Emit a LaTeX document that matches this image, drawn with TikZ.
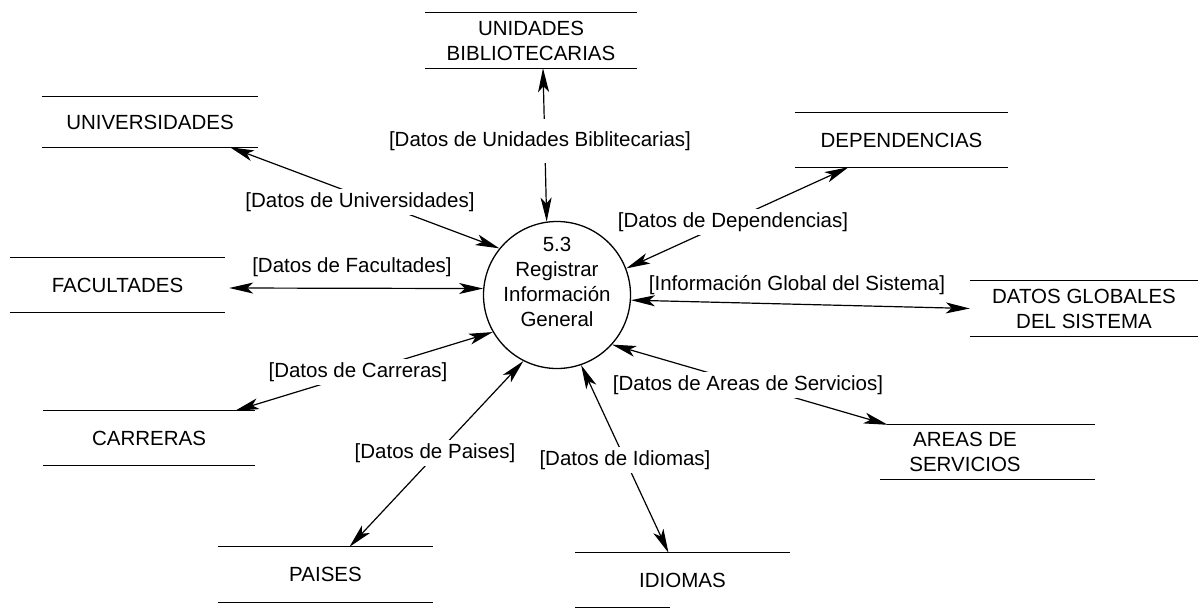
\documentclass[tikz,border=0pt]{standalone}
\usepackage{fontspec}
\setmainfont{Liberation Sans}
\usetikzlibrary{arrows.meta,calc}
\begin{document}
\begin{tikzpicture}[x=1pt,y=-1pt,
  every node/.style={font=\fontsize{20.5}{25}\selectfont, inner sep=0pt},
  store/.style={align=center},
  sline/.style={line width=1.3pt},
  flow/.style={{Stealth[length=24pt,width=11pt,inset=6pt]}-{Stealth[length=24pt,width=11pt,inset=6pt]}, line width=1.2pt},
  lbl/.style={fill=white, inner sep=3pt},
  proc/.style={circle, draw, line width=1.3pt, minimum size=147pt}
]
\useasboundingbox (0,0) rectangle (1198,608);

% process
\node[proc] (proc) at (557,295) {};
\node[align=center] (proctext) at (557,282) {5.3\\Registrar\\Información\\General};

% data stores
\node[store, minimum width=211pt, minimum height=55pt] (unid) at (531,40.5) {UNIDADES\\BIBLIOTECARIAS};
\node[store, minimum width=216pt, minimum height=50pt] (univ) at (150,122) {UNIVERSIDADES};
\node[store, minimum width=215pt, minimum height=54pt] (fac) at (117.5,285) {FACULTADES};
\node[store, minimum width=212pt, minimum height=54pt] (carr) at (149,438) {CARRERAS};
\node[store, minimum width=215pt, minimum height=55pt] (pais) at (325.5,574.5) {PAISES};
\node[store, minimum width=215pt, minimum height=54pt] (idio) at (682.5,580) {IDIOMAS};
\node[store, minimum width=208pt, minimum height=54pt] (area) at (965,452) {AREAS DE\\SERVICIOS};
\node[store, minimum width=228pt, minimum height=55pt] (glob) at (1084,308.5) {DATOS GLOBALES\\DEL SISTEMA};
\node[store, minimum width=213pt, minimum height=54pt] (dep) at (901.5,140) {DEPENDENCIAS};

\foreach \s in {unid,univ,fac,carr,pais,glob,dep}{
  \draw[sline] (\s.north west) -- (\s.north east) (\s.south west) -- (\s.south east);
}
\draw[sline] (idio.north west) -- (idio.north east) (idio.south west) -- ([xshift=95pt]idio.south west);
\draw[sline] ([xshift=26pt]area.north west) -- ([xshift=26pt]area.north east)
             ([xshift=19pt]area.south west) -- ([xshift=26pt]area.south east);

% flows
\draw[flow] ([xshift=12pt]unid.south) -- (proc.98);
\draw[flow] ([xshift=80pt]univ.south) -- (proc.141);
\draw[flow] ([xshift=4pt,yshift=-3pt]fac.east) -- (proc.175);
\draw[flow] ([xshift=86pt]carr.north) -- (proc.210);
\draw[flow] ([xshift=24pt]pais.north) -- (proc.243);
\draw[flow] ([xshift=-14pt]idio.north) -- (proc.289);
\draw[flow] ([xshift=27pt]area.north west) -- (proc.318);
\draw[flow] (glob.west) -- (proc.356);
\draw[flow] ([xshift=-53pt]dep.south) -- (proc.21);

% labels
\node[lbl, inner ysep=12pt] (lU) at (540,141) {[Datos de Unidades Biblitecarias]};
\node[lbl] (lUn) at (360,202) {[Datos de Universidades]};
\node (lF) at (352,267) {[Datos de Facultades]};
\node[lbl] (lD) at (733,222) {[Datos de Dependencias]};
\node (lG) at (797,285) {[Información Global del Sistema]};
\node[lbl] (lC) at (358,372) {[Datos de Carreras]};
\node[lbl] (lP) at (435,453) {[Datos de Paises]};
\node[lbl] (lI) at (625,460) {[Datos de Idiomas]};
\node[lbl] (lA) at (748,385) {[Datos de Areas de Servicios]};
\end{tikzpicture}
\end{document}
